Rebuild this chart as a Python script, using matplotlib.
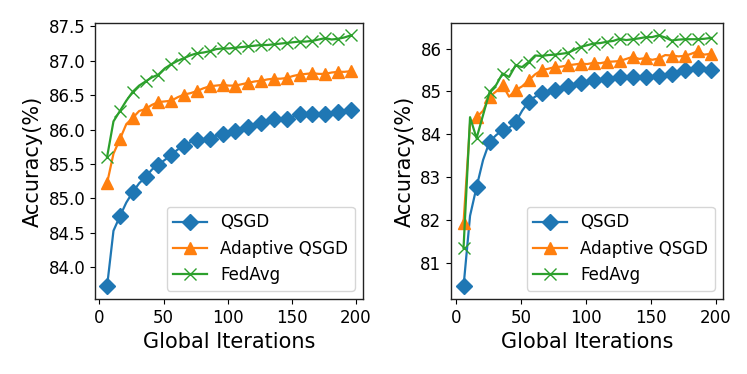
import numpy as np
import matplotlib
matplotlib.use('Agg')
import matplotlib.pyplot as plt

iters = list(range(6, 200, 5))

left_qsgd = [83.72, 84.53, 84.74, 84.94, 85.09, 85.22, 85.31, 85.42, 85.49, 85.56,
             85.63, 85.71, 85.76, 85.82, 85.85, 85.86, 85.87, 85.91, 85.93, 85.96,
             85.98, 86.01, 86.04, 86.07, 86.09, 86.12, 86.15, 86.15, 86.15, 86.19,
             86.22, 86.22, 86.22, 86.22, 86.22, 86.24, 86.26, 86.27, 86.28]
left_adaptive = [85.22, 85.65, 85.86, 86.08, 86.17, 86.27, 86.30, 86.36, 86.40, 86.41,
                 86.42, 86.47, 86.51, 86.53, 86.56, 86.60, 86.63, 86.64, 86.65, 86.64,
                 86.64, 86.66, 86.68, 86.70, 86.71, 86.73, 86.74, 86.74, 86.75, 86.78,
                 86.80, 86.81, 86.82, 86.81, 86.81, 86.83, 86.84, 86.84, 86.85]
left_fedavg = [85.60, 86.12, 86.27, 86.42, 86.55, 86.64, 86.70, 86.76, 86.80, 86.89,
               86.95, 87.00, 87.04, 87.08, 87.11, 87.12, 87.14, 87.17, 87.18, 87.18,
               87.19, 87.20, 87.21, 87.22, 87.23, 87.23, 87.24, 87.25, 87.26, 87.27,
               87.28, 87.28, 87.29, 87.31, 87.33, 87.31, 87.32, 87.34, 87.37]

right_qsgd = [80.45, 82.10, 82.77, 83.40, 83.83, 83.98, 84.10, 84.15, 84.28, 84.55,
              84.76, 84.88, 84.96, 85.00, 85.03, 85.08, 85.13, 85.16, 85.19, 85.22,
              85.26, 85.28, 85.30, 85.32, 85.34, 85.33, 85.34, 85.34, 85.34, 85.35,
              85.36, 85.39, 85.42, 85.46, 85.50, 85.52, 85.55, 85.52, 85.50]
right_adaptive = [81.94, 84.25, 84.40, 84.55, 84.88, 85.00, 85.15, 84.88, 85.03, 85.12,
                  85.26, 85.40, 85.50, 85.53, 85.57, 85.58, 85.61, 85.63, 85.65, 85.64,
                  85.67, 85.66, 85.69, 85.70, 85.71, 85.76, 85.81, 85.76, 85.78, 85.74,
                  85.77, 85.85, 85.84, 85.82, 85.83, 85.88, 85.94, 85.86, 85.88]
right_fedavg = [81.35, 84.40, 83.91, 84.45, 84.99, 85.15, 85.42, 85.34, 85.61, 85.57,
                85.69, 85.84, 85.83, 85.85, 85.86, 85.88, 85.90, 85.97, 86.04, 86.08,
                86.12, 86.13, 86.16, 86.18, 86.23, 86.20, 86.22, 86.24, 86.27, 86.27,
                86.31, 86.26, 86.19, 86.21, 86.22, 86.22, 86.22, 86.23, 86.25]

labels = ['QSGD', 'Adaptive QSGD', 'FedAvg']
markers = ['D', '^', 'x']

fig = plt.figure(figsize=(7.47, 3.74), dpi=100)
ax1 = fig.add_axes([0.127, 0.2005, 0.359, 0.7385])
ax2 = fig.add_axes([0.604, 0.2005, 0.364, 0.7385])

for ax, series in [(ax1, [left_qsgd, left_adaptive, left_fedavg]),
                   (ax2, [right_qsgd, right_adaptive, right_fedavg])]:
    for ys, lab, m in zip(series, labels, markers):
        ax.plot(iters, ys, marker=m, markevery=2, markersize=8, linewidth=1.6, label=lab)
    ax.set_xlabel('Global Iterations', fontsize=15)
    ax.set_ylabel('Accuracy(%)', fontsize=15)
    ax.tick_params(labelsize=12)
    ax.set_xticks([0, 50, 100, 150, 200])
    ax.legend(loc='lower right', fontsize=12)
    for sp in ax.spines.values():
        sp.set_linewidth(1.0)
        sp.set_edgecolor('#222222')

ax1.set_yticks([84.0, 84.5, 85.0, 85.5, 86.0, 86.5, 87.0, 87.5])

fig.savefig('out.png', dpi=100)
